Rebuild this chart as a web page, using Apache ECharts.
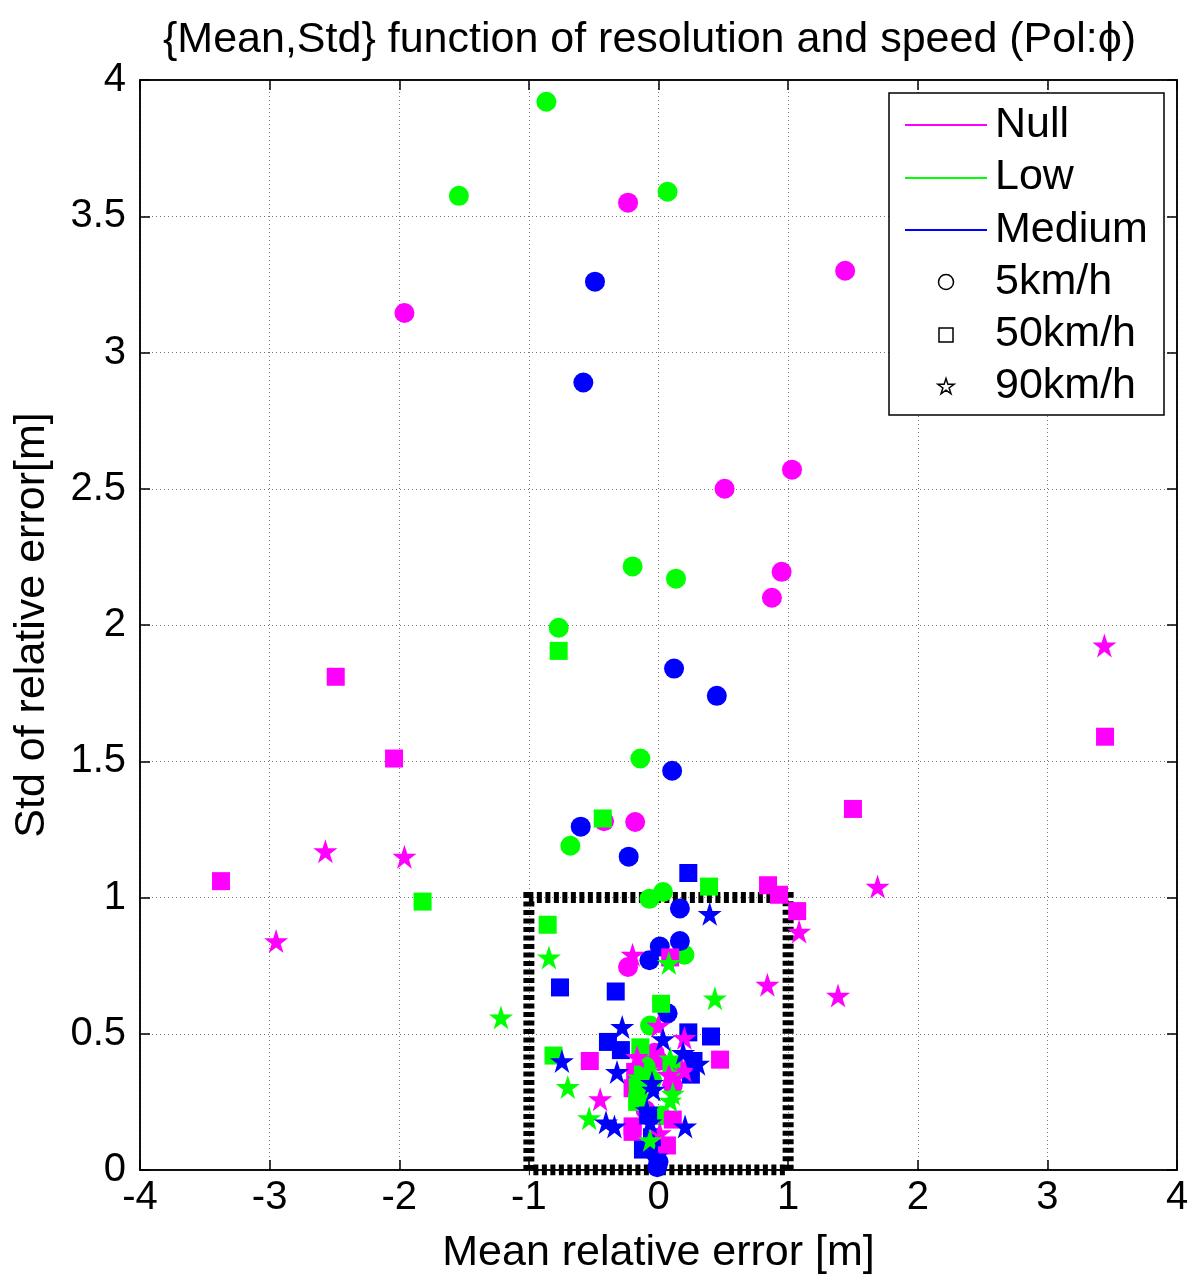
<!DOCTYPE html>
<html>
<head>
<meta charset="utf-8">
<script src="https://cdn.jsdelivr.net/npm/echarts@6/dist/echarts.min.js"></script>
<style>
html,body{margin:0;padding:0;background:#fff;}
#chart{width:1200px;height:1282px;}
</style>
</head>
<body>
<div id="chart"></div>
<script>
// ---- data (mean relative error, std of relative error) ----
const null5 = [[-0.235,3.55],[1.44,3.30],[-1.96,3.145],[0.51,2.50],[1.03,2.57],[0.95,2.195],[0.875,2.10],[-0.18,1.277],[-0.42,1.28],[-0.235,0.745],[-0.03,0.43],[0.11,0.31],[0.0,0.40],[-0.1,0.22]];
const low5 = [[-0.865,3.92],[-1.54,3.575],[0.07,3.59],[-0.2,2.215],[0.135,2.17],[-0.77,1.99],[-0.14,1.51],[-0.68,1.19],[0.035,1.02],[-0.07,0.995],[0.2,0.79],[-0.065,0.53],[-0.05,0.33],[0.02,0.20],[-0.1,0.38]];
const med5 = [[-0.49,3.26],[-0.58,2.89],[0.12,1.84],[0.45,1.74],[0.105,1.465],[-0.6,1.26],[-0.23,1.15],[0.165,0.96],[0.165,0.84],[0.01,0.82],[-0.07,0.77],[0.07,0.575],[-0.02,0.06],[0.0,0.03],[-0.01,0.01],[-0.03,0.09]];
const null50 = [[-2.49,1.81],[-2.04,1.51],[-3.375,1.06],[1.50,1.325],[3.445,1.59],[0.845,1.045],[0.93,1.01],[1.07,0.95],[0.475,0.405],[-0.53,0.40],[-0.2,0.30],[0.11,0.185],[-0.2,0.16],[-0.2,0.14],[0.065,0.09],[0.09,0.78],[-0.18,0.36],[0.12,0.37]];
const low50 = [[-0.77,1.905],[-1.82,0.985],[-0.43,1.29],[0.39,1.04],[-0.855,0.90],[0.02,0.61],[-0.81,0.42],[-0.14,0.45],[-0.16,0.305],[-0.165,0.25],[0.1,0.38],[-0.12,0.35]];
const med50 = [[0.23,1.09],[-0.76,0.67],[-0.33,0.655],[0.23,0.505],[0.405,0.49],[-0.39,0.47],[-0.29,0.44],[0.25,0.35],[0.27,0.40],[-0.12,0.075],[-0.05,0.12],[-0.08,0.2]];
const null90 = [[3.44,1.925],[-2.57,1.17],[-1.96,1.15],[-2.95,0.84],[1.69,1.04],[1.085,0.875],[0.84,0.68],[1.385,0.64],[-0.2,0.79],[-0.45,0.26],[0.0,0.53],[0.2,0.485],[-0.165,0.415],[0.2,0.365],[0.01,0.135],[0.08,0.35]];
const low90 = [[-1.215,0.56],[-0.845,0.78],[0.08,0.76],[0.435,0.63],[-0.7,0.305],[-0.535,0.19],[0.09,0.41],[-0.09,0.365],[0.11,0.28],[-0.12,0.27],[0.09,0.255],[-0.065,0.11],[-0.15,0.34]];
const med90 = [[0.395,0.94],[-0.28,0.525],[-0.745,0.40],[-0.32,0.36],[-0.405,0.175],[-0.34,0.16],[0.205,0.16],[0.035,0.48],[0.305,0.39],[0.19,0.43],[-0.04,0.295],[-0.065,0.175],[-0.09,0.22],[-0.02,0.05],[-0.05,0.32]];
// zoom box (dashed rectangle)
const boxX = [-1, -1, 1, 1, -1];
const boxY = [0, 1, 1, 0, 0];
const resolutionNames = ['Null', 'Low', 'Medium'];
const speedNames = ['5km/h', '50km/h', '90km/h'];

const MAG = '#FF00FF', GRN = '#00FF00', BLU = '#0000FF';
const STAR = 'path://M50,0 L61.2,34.5 L97.6,34.5 L68.2,55.9 L79.4,90.5 L50,69.1 L20.6,90.5 L31.8,55.9 L2.4,34.5 L38.8,34.5 Z';
const FONT = '"Liberation Sans", Arial, sans-serif';

function starPoints(cx, cy, R) {
  const pts = [];
  const r = R * 0.382;
  for (let i = 0; i < 10; i++) {
    const a = -Math.PI / 2 + i * Math.PI / 5;
    const rad = i % 2 === 0 ? R : r;
    pts.push([cx + rad * Math.cos(a), cy + rad * Math.sin(a)]);
  }
  return pts;
}

function sc(name, data, color, symbol, size) {
  return { name, type: 'scatter', data, symbol, symbolSize: size,
    itemStyle: { color, opacity: 1 }, emphasis: { disabled: true }, z: 3 };
}

const chart = echarts.init(document.getElementById('chart'), null, { renderer: 'canvas' });
const gridLine = { show: true, lineStyle: { color: '#777', type: [1, 3], width: 1 } };
const legendText = (t, y) => ({ type: 'text', x: 995, y, style: { text: t, font: '43px ' + FONT, fill: '#000', textVerticalAlign: 'middle', verticalAlign: 'middle' }, z: 101 });
const option = {
  animation: false,
  backgroundColor: '#fff',
  title: {
    text: '{Mean,Std} function of resolution and speed (Pol:\u03D5)',
    left: 158, top: 14,
    textStyle: { fontFamily: FONT, fontSize: 43, fontWeight: 'normal', color: '#000' }
  },
  grid: { left: 140, right: 23, top: 80, bottom: 112, show: true, borderColor: '#000', borderWidth: 1.5, backgroundColor: 'transparent' },
  xAxis: [{
    type: 'value', min: -4, max: 4, interval: 1,
    name: 'Mean relative error [m]', nameLocation: 'middle', nameGap: 62,
    nameTextStyle: { fontFamily: FONT, fontSize: 43, color: '#000' },
    axisLine: { onZero: false, lineStyle: { color: '#000', width: 1.5 } },
    axisTick: { inside: true, length: 10, lineStyle: { color: '#000', width: 1.5 } },
    axisLabel: { fontFamily: FONT, fontSize: 40, color: '#000', margin: 8 },
    splitLine: gridLine
  }, {
    type: 'value', min: -4, max: 4, interval: 1, position: 'top',
    axisLine: { onZero: false, lineStyle: { color: '#000', width: 1.5 } },
    axisTick: { inside: true, length: 10, lineStyle: { color: '#000', width: 1.5 } },
    axisLabel: { show: false }, splitLine: { show: false }
  }],
  yAxis: [{
    type: 'value', min: 0, max: 4, interval: 0.5,
    name: 'Std of relative error[m]', nameLocation: 'middle', nameGap: 86,
    nameTextStyle: { fontFamily: FONT, fontSize: 43, color: '#000' },
    axisLine: { onZero: false, lineStyle: { color: '#000', width: 1.5 } },
    axisTick: { inside: true, length: 10, lineStyle: { color: '#000', width: 1.5 } },
    axisLabel: { fontFamily: FONT, fontSize: 40, color: '#000', margin: 14 },
    splitLine: gridLine
  }, {
    type: 'value', min: 0, max: 4, interval: 0.5, position: 'right',
    axisLine: { onZero: false, lineStyle: { color: '#000', width: 1.5 } },
    axisTick: { inside: true, length: 10, lineStyle: { color: '#000', width: 1.5 } },
    axisLabel: { show: false }, splitLine: { show: false }
  }],
  series: [
    { name: 'box', type: 'line', data: boxX.map((x, i) => [x, boxY[i]]), symbol: 'none',
      lineStyle: { color: '#000', width: 11, type: [5, 3.5], cap: 'butt', join: 'miter' }, z: 2, silent: true },
    sc(resolutionNames[0] + ' ' + speedNames[0], null5, MAG, 'circle', 20),
    sc(resolutionNames[1] + ' ' + speedNames[0], low5, GRN, 'circle', 20),
    sc(resolutionNames[2] + ' ' + speedNames[0], med5, BLU, 'circle', 20),
    sc(resolutionNames[0] + ' ' + speedNames[1], null50, MAG, 'rect', 18),
    sc(resolutionNames[1] + ' ' + speedNames[1], low50, GRN, 'rect', 18),
    sc(resolutionNames[2] + ' ' + speedNames[1], med50, BLU, 'rect', 18),
    sc(resolutionNames[0] + ' ' + speedNames[2], null90, MAG, STAR, 24),
    sc(resolutionNames[1] + ' ' + speedNames[2], low90, GRN, STAR, 24),
    sc(resolutionNames[2] + ' ' + speedNames[2], med90, BLU, STAR, 24)
  ],
  graphic: [
    { type: 'rect', shape: { x: 889, y: 93, width: 275, height: 322 }, style: { fill: '#fff', stroke: '#000', lineWidth: 1.5 }, z: 100 },
    { type: 'line', shape: { x1: 905, y1: 125, x2: 987, y2: 125 }, style: { stroke: MAG, lineWidth: 2 }, z: 101 },
    { type: 'line', shape: { x1: 905, y1: 178, x2: 987, y2: 178 }, style: { stroke: GRN, lineWidth: 2 }, z: 101 },
    { type: 'line', shape: { x1: 905, y1: 230, x2: 987, y2: 230 }, style: { stroke: BLU, lineWidth: 2 }, z: 101 },
    { type: 'circle', shape: { cx: 946, cy: 282, r: 7.5 }, style: { fill: 'none', stroke: '#000', lineWidth: 1.5 }, z: 101 },
    { type: 'rect', shape: { x: 939, y: 328, width: 14, height: 14 }, style: { fill: 'none', stroke: '#000', lineWidth: 1.5 }, z: 101 },
    { type: 'polygon', shape: { points: starPoints(946, 387, 8.5) }, style: { fill: 'none', stroke: '#000', lineWidth: 1.5 }, z: 101 },
    legendText(resolutionNames[0], 125),
    legendText(resolutionNames[1], 177),
    legendText(resolutionNames[2], 230),
    legendText(speedNames[0], 282),
    legendText(speedNames[1], 334),
    legendText(speedNames[2], 386)
  ]
};
chart.setOption(option);
</script>
</body>
</html>
